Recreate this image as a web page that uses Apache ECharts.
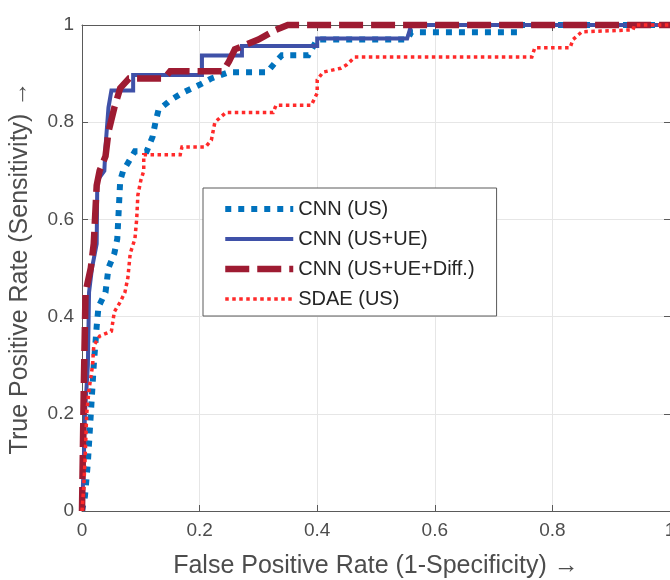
<!DOCTYPE html>
<html>
<head>
<meta charset="utf-8">
<script src="https://cdn.jsdelivr.net/npm/echarts@6/dist/echarts.min.js"></script>
<style>
html,body{margin:0;padding:0;background:#fff;overflow:hidden;}
#chart{width:670px;height:580px;position:absolute;left:0;top:0;}
</style>
</head>
<body>
<div id="chart"></div>
<script>
// Series names
var seriesNames = ['CNN (US)', 'CNN (US+UE)', 'CNN (US+UE+Diff.)', 'SDAE (US)'];

// Axis ticks
var xTicks = [0, 0.2, 0.4, 0.6, 0.8, 1];
var yTicks = [0, 0.2, 0.4, 0.6, 0.8, 1];

// CNN (US) ROC points [FPR, TPR]
var cnnUS = [
  [0,0],[0.005,0.03],[0.01,0.1],[0.015,0.2],[0.02,0.3],[0.025,0.38],[0.028,0.42],
  [0.04,0.45],[0.045,0.5],[0.055,0.53],[0.06,0.56],[0.065,0.68],[0.07,0.7],
  [0.08,0.72],[0.09,0.74],[0.11,0.74],[0.12,0.77],[0.125,0.8],[0.13,0.825],
  [0.15,0.845],[0.17,0.86],[0.2,0.877],[0.22,0.89],[0.25,0.903],[0.315,0.903],
  [0.33,0.925],[0.34,0.938],[0.385,0.938],[0.4,0.97],[0.553,0.97],[0.56,0.985],
  [0.74,0.985],[0.745,1],[1,1]
];

// CNN (US+UE)
var cnnUSUE = [
  [0,0],[0.003,0.1],[0.005,0.2],[0.01,0.3],[0.012,0.45],[0.017,0.5],[0.025,0.55],
  [0.026,0.68],[0.038,0.7],[0.04,0.75],[0.045,0.83],[0.05,0.865],[0.087,0.865],
  [0.087,0.897],[0.204,0.897],[0.204,0.937],[0.272,0.937],[0.272,0.957],[0.4,0.957],
  [0.4,0.972],[0.553,0.972],[0.56,1],[1,1]
];

// CNN (US+UE+Diff.)
var cnnUSUEDiff = [
  [0,0],[0.003,0.25],[0.006,0.45],[0.015,0.5],[0.02,0.55],[0.025,0.67],[0.03,0.7],
  [0.04,0.73],[0.045,0.78],[0.055,0.83],[0.065,0.87],[0.08,0.89],[0.14,0.89],
  [0.15,0.905],[0.24,0.905],[0.25,0.925],[0.26,0.95],[0.3,0.97],[0.33,0.99],
  [0.35,1],[1,1]
];

// SDAE (US)
var sdaeUS = [
  [0,0],[0.003,0.05],[0.005,0.1],[0.008,0.2],[0.012,0.25],[0.018,0.3],[0.02,0.34],
  [0.03,0.36],[0.05,0.37],[0.055,0.41],[0.065,0.43],[0.073,0.45],[0.078,0.48],
  [0.082,0.53],[0.09,0.56],[0.093,0.6],[0.095,0.65],[0.1,0.68],[0.105,0.7],
  [0.105,0.733],[0.167,0.733],[0.17,0.749],[0.21,0.749],[0.22,0.763],[0.226,0.8],
  [0.245,0.82],[0.325,0.82],[0.33,0.835],[0.39,0.835],[0.4,0.86],[0.4,0.887],
  [0.41,0.903],[0.44,0.911],[0.45,0.918],[0.464,0.934],[0.765,0.934],[0.77,0.953],
  [0.83,0.953],[0.835,0.97],[0.85,0.986],[0.937,0.99],[0.94,1],[1,1]
];

var FONT = '"Liberation Sans", Arial, sans-serif';
var LABEL = '#4d4d4d';
var AXIS = '#5a5a5a';

var chart = echarts.init(document.getElementById('chart'), null, {renderer: 'canvas', width: 670, height: 580});

function axisCommon(showLabel) {
  return {
    type: 'value', min: 0, max: 1, interval: 0.2,
    axisLine: {show: true, onZero: false, lineStyle: {color: AXIS, width: 1}},
    axisTick: {show: true, inside: true, length: 6, lineStyle: {color: AXIS}},
    axisLabel: {show: showLabel, color: LABEL, fontSize: 19, fontFamily: FONT},
    splitLine: {show: false}
  };
}

var xBottom = axisCommon(true);
xBottom.position = 'bottom';
xBottom.name = 'False Positive Rate (1-Specificity) \u2192';
xBottom.nameLocation = 'middle';
xBottom.nameGap = 43;
xBottom.nameTextStyle = {color: LABEL, fontSize: 25, fontFamily: FONT};
xBottom.axisLabel.margin = 10;
xBottom.splitLine = {show: true, lineStyle: {color: '#e6e6e6', width: 1}};

var xTop = axisCommon(false);
xTop.position = 'top';

var yLeft = axisCommon(true);
yLeft.position = 'left';
yLeft.name = 'True Positive Rate (Sensitivity) \u2192';
yLeft.nameLocation = 'middle';
yLeft.nameGap = 49;
yLeft.nameTextStyle = {color: LABEL, fontSize: 25, fontFamily: FONT};
yLeft.axisLabel.margin = 8;
yLeft.splitLine = {show: true, lineStyle: {color: '#e6e6e6', width: 1}};

var yRight = axisCommon(false);
yRight.position = 'right';

var styles = [
  {color: '#0072BD', width: 6, type: [6, 7], z: 2},
  {color: '#3F51A8', width: 4, type: 'solid', z: 3},
  {color: '#9E1B32', width: 6.5, type: [24, 8], z: 4},
  {color: '#FF2A2A', width: 3.5, type: [3.5, 3.5], z: 5}
];
var datas = [cnnUS, cnnUSUE, cnnUSUEDiff, sdaeUS];

var series = datas.map(function (d, i) {
  var s = styles[i];
  return {
    name: seriesNames[i],
    type: 'line',
    xAxisIndex: 0,
    yAxisIndex: 0,
    data: d,
    symbol: 'none',
    z: s.z,
    clip: false,
    lineStyle: {color: s.color, width: s.width, type: s.type, cap: 'butt', join: 'miter'},
    itemStyle: {color: s.color},
    emphasis: {disabled: true},
    animation: false
  };
});

chart.setOption({
  backgroundColor: '#fff',
  animation: false,
  grid: {left: 82, right: 0, top: 25, bottom: 69, containLabel: false, outerBoundsMode: 'none'},
  xAxis: [xBottom, xTop],
  yAxis: [yLeft, yRight],
  legend: {
    orient: 'vertical',
    left: 203, top: 188,
    padding: [11, 22, 7, 19],
    itemWidth: 68, itemHeight: 20,
    itemGap: 10,
    backgroundColor: '#fff',
    borderColor: '#5a5a5a', borderWidth: 1,
    itemStyle: {color: 'rgba(0,0,0,0)', borderWidth: 0, opacity: 0},
    textStyle: {color: '#262626', fontSize: 20, lineHeight: 20, fontFamily: FONT},
    data: seriesNames.map(function (n, i) {
      return {name: n, lineStyle: {color: styles[i].color, width: styles[i].width, type: styles[i].type, cap: 'butt'},
              itemStyle: {opacity: 0}};
    })
  },
  series: series
});
</script>
</body>
</html>
